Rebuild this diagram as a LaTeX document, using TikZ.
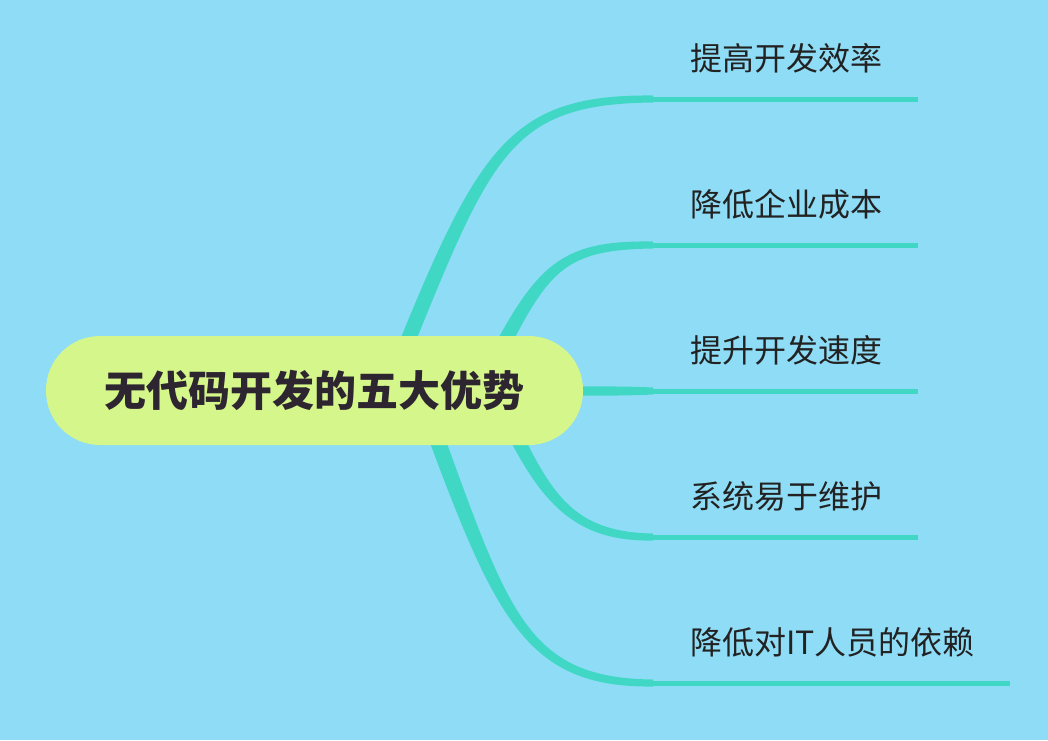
\documentclass[tikz,border=0pt]{standalone}
\usepackage{fontspec}
\newfontfamily\cjk{Noto Sans CJK SC}
\usetikzlibrary{calc}
\definecolor{sky}{RGB}{143,220,246}
\definecolor{lime}{RGB}{212,246,138}
\definecolor{twigc}{RGB}{64,216,196}
\definecolor{inkc}{RGB}{34,34,34}
\definecolor{rootink}{RGB}{45,38,48}
\tikzset{
root/.style={fill=lime, rounded corners=54pt, minimum width=537pt, minimum height=109pt, inner sep=0pt, font=\cjk\bfseries\fontsize{42}{48}\selectfont, text=rootink},
leaf/.style={anchor=base west, inner sep=0pt, font=\cjk\fontsize{32}{38}\selectfont, text=inkc},
twig/.style={fill=twigc},
twigline/.style={draw=twigc, line width=5pt}
}
% tapered branch: start, control 1, control 2, end, half width at start
\newcommand{\twigpath}[5]{\fill[twig] ($#1+#5$) .. controls ($#2+#5$) and ($#3+(0,-5)$) .. ($#4+(0,-3.5)$) -- ($#4+(0,3.5)$) .. controls ($#3+(0,5)$) and ($#2-#5$) .. ($#1-#5$) -- cycle;}
\begin{document}
\begin{tikzpicture}[x=1pt,y=-1pt]
\useasboundingbox (0,0) rectangle (1048,740);
\fill[sky] (0,0) rectangle (1048,740);
\coordinate (s1) at (400,360);
\coordinate (s2) at (480,390);
\coordinate (s3) at (560,391);
\coordinate (s4) at (494,390);
\coordinate (s5) at (419,390);
\coordinate (e1) at (653,99);
\coordinate (e2) at (653,245);
\coordinate (e3) at (653,391);
\coordinate (e4) at (653,537);
\coordinate (e5) at (653,683);
\coordinate (t1) at (918,99);
\coordinate (t2) at (918,245);
\coordinate (t3) at (918,391);
\coordinate (t4) at (918,537);
\coordinate (t5) at (1010,683);
% branches
\twigpath{(s1)}{(485,150)}{(510,99)}{(e1)}{(-7,-2.8)}
\twigpath{(s2)}{(540,270)}{(555,245)}{(e2)}{(-6.7,-3.4)}
\twigpath{(s3)}{(600,391)}{(620,391)}{(e3)}{(0,-4.5)}
\twigpath{(s4)}{(540,490)}{(565,537)}{(e4)}{(6.8,-3.1)}
\twigpath{(s5)}{(500,610)}{(520,683)}{(e5)}{(7.5,-2.8)}
\draw[twigline] (e1)--(t1);
\draw[twigline] (e2)--(t2);
\draw[twigline] (e3)--(t3);
\draw[twigline] (e4)--(t4);
\draw[twigline] (e5)--(t5);
% topics
\node[root] (root) at (314.5,390.5) {无代码开发的五大优势};
\node[leaf] (l1) at (690,70) {提高开发效率};
\node[leaf] (l2) at (690,216) {降低企业成本};
\node[leaf] (l3) at (690,362) {提升开发速度};
\node[leaf] (l4) at (690,508) {系统易于维护};
\node[leaf] (l5) at (690,654) {降低对IT人员的依赖};
\end{tikzpicture}
\end{document}
